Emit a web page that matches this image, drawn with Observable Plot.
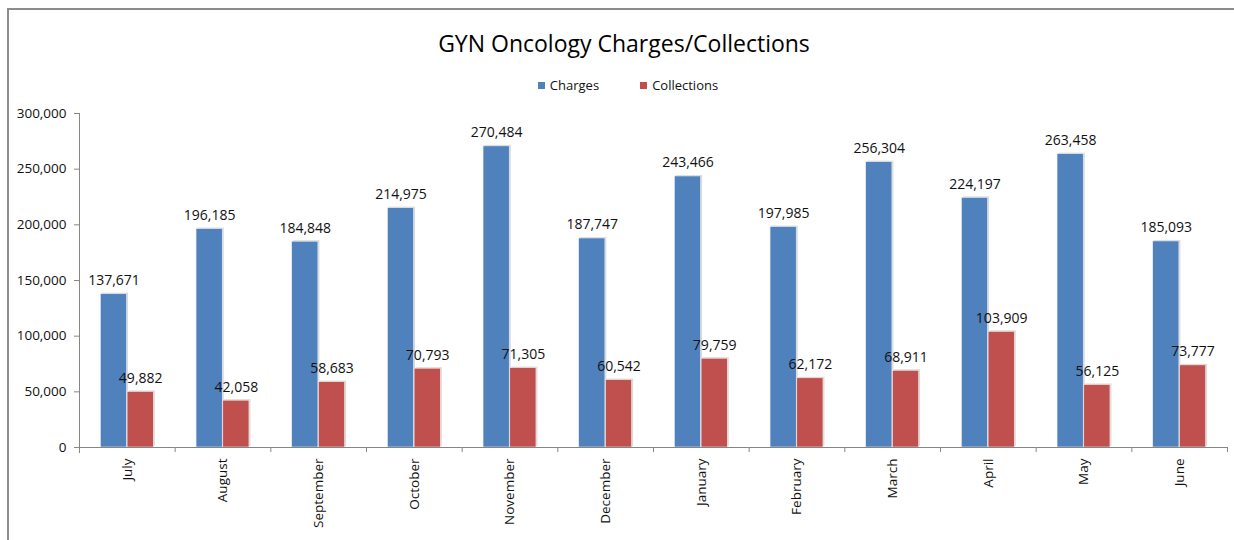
<!DOCTYPE html>
<html>
<head>
<meta charset="utf-8">
<script src="https://cdn.jsdelivr.net/npm/d3@7"></script>
<script src="https://cdn.jsdelivr.net/npm/@observablehq/plot@0.6"></script>
<style>
  html, body { margin: 0; padding: 0; background: #fff; width: 1234px; height: 540px; overflow: hidden; }
  body { position: relative; font-family: "Open Sans", sans-serif; }
  #frame { position: absolute; left: 7px; top: 8px; width: 1240px; height: 540px; border-top: 2px solid #8c8c8c; border-left: 2px solid #8c8c8c; }
  #title { position: absolute; left: 14px; width: 1220px; top: 25px; text-align: center; font-size: 23px; color: #000; line-height: 36px; }
  #legend { position: absolute; left: 18px; width: 1220px; top: 76px; display: flex; justify-content: center; gap: 41px; font-size: 13px; color: #111; line-height: 18px; }
  #legend span.item { display: inline-flex; align-items: center; }
  #legend span.sw { display: inline-block; width: 7px; height: 7px; margin-right: 5px; }
  #chart { position: absolute; left: 0; top: 100px; }
</style>
</head>
<body>
<div id="frame"></div>
<div id="title">GYN Oncology Charges/Collections</div>
<div id="legend"></div>
<div id="chart"></div>
<script>
const months = ["July", "August", "September", "October", "November", "December", "January", "February", "March", "April", "May", "June"];
const seriesNames = ["Charges", "Collections"];
const seriesColors = ["#4F81BD", "#C0504D"];
const charges = [137671, 196185, 184848, 214975, 270484, 187747, 243466, 197985, 256304, 224197, 263458, 185093];
const collections = [49882, 42058, 58683, 70793, 71305, 60542, 79759, 62172, 68911, 103909, 56125, 73777];
const yTicks = [0, 50000, 100000, 150000, 200000, 250000, 300000];

const data = [];
months.forEach((m, i) => {
  data.push({month: m, series: "Charges", value: charges[i]});
  data.push({month: m, series: "Collections", value: collections[i]});
});

// legend
const legend = document.getElementById("legend");
seriesNames.forEach((s, i) => {
  const item = document.createElement("span");
  item.className = "item";
  const sw = document.createElement("span");
  sw.className = "sw";
  sw.style.background = seriesColors[i];
  item.appendChild(sw);
  item.appendChild(document.createTextNode(s));
  legend.appendChild(item);
});

const W = 1234, H = 440, mL = 79, mR = 7, mT = 13, mB = 93;
const halfStep = (W - mL - mR) / months.length / 2;
const fmt = d3.format(",");
const axisColor = "#868686";

const chart = Plot.plot({
  width: W,
  height: H,
  marginTop: mT,
  marginBottom: mB,
  marginLeft: mL,
  marginRight: mR,
  style: {fontFamily: "Open Sans, sans-serif", fontSize: "13px", color: "#111", background: "transparent"},
  fx: {domain: months, padding: 0, round: false, axis: null, label: null},
  x: {domain: seriesNames, paddingInner: 0.02, paddingOuter: 0.8, round: false, axis: null, label: null},
  y: {domain: [0, 300000], axis: null, label: null},
  color: {domain: seriesNames, range: seriesColors},
  marks: [
    Plot.barY(data, {fx: "month", x: "series", y: "value", fill: "#d9d9d9", dx: 1.5, dy: -1}),
    Plot.barY(data, {fx: "month", x: "series", y: "value", fill: "series", stroke: "#f0f0f0", strokeWidth: 0.6}),
    Plot.ruleY([0], {stroke: axisColor}),
    Plot.frame({facet: "super", anchor: "left", stroke: axisColor, insetBottom: -5}),
    Plot.axisY({ticks: yTicks, tickFormat: fmt, tickSize: 5, tickPadding: 8, stroke: axisColor, fill: "#111", fontSize: 13.5, label: null}),
    Plot.axisFx({anchor: "bottom", tickSize: 0, tickPadding: 11, tickRotate: -90, fill: "#111", fontSize: 13.5, label: null}),
    Plot.axisFx({anchor: "bottom", tickSize: 5, tickFormat: () => "", dx: halfStep, stroke: axisColor, label: null}),
    Plot.text(data, {fx: "month", x: "series", y: "value", text: d => fmt(d.value), lineAnchor: "bottom", dy: -9, fontSize: 14, fill: "#111"})
  ]
});
document.getElementById("chart").appendChild(chart);
</script>
</body>
</html>
